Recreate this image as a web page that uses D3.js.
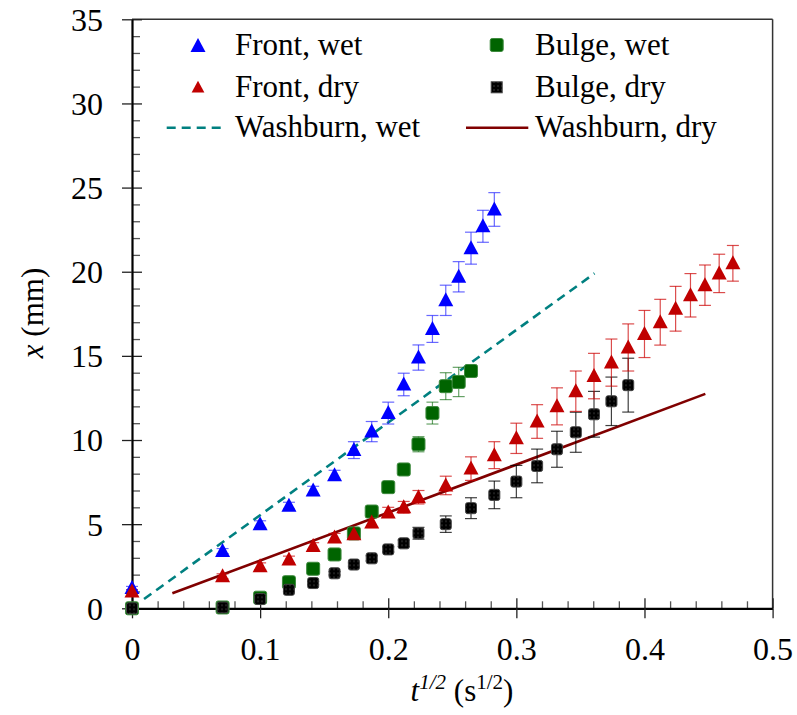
<!DOCTYPE html>
<html>
<head>
<meta charset="utf-8">
<script src="https://cdn.jsdelivr.net/npm/d3@7"></script>
<style>
  html, body { margin: 0; padding: 0; background: #fff; }
  svg text { font-family: "Liberation Serif", "Times New Roman", Tinos, "DejaVu Serif", "Noto Serif", serif !important; }
</style>
</head>
<body>
<svg id="chart" width="797" height="715"></svg>
<script>
// ---------------- data ----------------
const tFrontWet = [0, 0.0707, 0.1, 0.1225, 0.1414, 0.1581, 0.1732, 0.1871, 0.2, 0.2121, 0.2236, 0.2345, 0.2449, 0.2550, 0.2646, 0.2739, 0.2828];
const frontWet    = [1.2, 3.4, 5.0, 6.1, 7.0, 7.9, 9.4, 10.5, 11.6, 13.3, 14.9, 16.6, 18.3, 19.7, 21.4, 22.7, 23.7];
const frontWetErr = [0.1, 0.15, 0.2, 0.2, 0.25, 0.3, 0.5, 0.6, 0.65, 0.67, 0.75, 0.8, 0.9, 0.9, 0.95, 0.95, 1.0];

const tDry = [0, 0.0707, 0.1, 0.1225, 0.1414, 0.1581, 0.1732, 0.1871, 0.2, 0.2121, 0.2236, 0.2449, 0.2646, 0.2828, 0.3, 0.3162, 0.3317, 0.3464, 0.3606, 0.3742, 0.3873, 0.4, 0.4123, 0.4243, 0.4359, 0.4472, 0.4583, 0.4690];
const frontDry    = [1.0, 1.9, 2.5, 2.9, 3.7, 4.2, 4.4, 5.1, 5.7, 6.0, 6.6, 7.3, 8.3, 9.1, 10.1, 11.1, 12.0, 12.9, 13.8, 14.6, 15.5, 16.3, 17.0, 17.8, 18.6, 19.2, 19.9, 20.5];
const frontDryErr = [0.1, 0.15, 0.2, 0.2, 0.2, 0.25, 0.25, 0.3, 0.3, 0.35, 0.4, 0.55, 0.7, 0.8, 0.9, 1.0, 1.1, 1.2, 1.35, 1.4, 1.4, 1.4, 1.36, 1.33, 1.29, 1.2, 1.14, 1.06];

const tBulgeWet = [0, 0.0707, 0.1, 0.1225, 0.1414, 0.1581, 0.1732, 0.1871, 0.2, 0.2121, 0.2236, 0.2345, 0.2449, 0.2550, 0.2646];
const bulgeWet    = [0, 0.05, 0.63, 1.55, 2.35, 3.2, 4.45, 5.75, 7.2, 8.25, 9.75, 11.6, 13.2, 13.45, 14.1];
const bulgeWetErr = [0, 0, 0.1, 0.1, 0.15, 0.15, 0.2, 0.2, 0.25, 0.3, 0.45, 0.65, 0.8, 0.87, 0];

const tBulgeDry = [0, 0.0707, 0.1, 0.1225, 0.1414, 0.1581, 0.1732, 0.1871, 0.2, 0.2121, 0.2236, 0.2449, 0.2646, 0.2828, 0.3, 0.3162, 0.3317, 0.3464, 0.3606, 0.3742, 0.3873];
const bulgeDry    = [0, 0.05, 0.55, 1.1, 1.5, 2.08, 2.6, 2.97, 3.5, 3.86, 4.46, 5.0, 5.95, 6.74, 7.53, 8.46, 9.45, 10.46, 11.53, 12.3, 13.26];
const bulgeDryErr = [0, 0, 0.05, 0.1, 0.1, 0.1, 0.1, 0.15, 0.15, 0.2, 0.35, 0.49, 0.62, 0.82, 0.96, 1.0, 1.07, 1.19, 1.36, 1.44, 1.6];

const washburnWetT = [0.0094, 0.361];
const washburnWetX = [0.55, 19.9];
const washburnDryT = [0.0315, 0.4475];
const washburnDryX = [0.89, 12.74];

const xTicks = [0, 0.1, 0.2, 0.3, 0.4, 0.5];
const xTickLabels = ["0", "0.1", "0.2", "0.3", "0.4", "0.5"];
const yTicks = [0, 5, 10, 15, 20, 25, 30, 35];
const yTickLabels = ["0", "5", "10", "15", "20", "25", "30", "35"];

const legendLabels = ["Front, wet", "Front, dry", "Washburn, wet", "Bulge, wet", "Bulge, dry", "Washburn, dry"];

// ---------------- layout ----------------
const W = 797, H = 715;
const margin = {left: 132, top: 19.3, right: 24.4, bottom: 106.7};
const pw = W - margin.left - margin.right;
const ph = H - margin.top - margin.bottom;

const svg = d3.select("#chart");
const defs = svg.append("defs");
const pat = defs.append("pattern").attr("id", "dots").attr("patternUnits", "userSpaceOnUse")
  .attr("width", 4).attr("height", 4).attr("x", 0).attr("y", 0);
pat.append("rect").attr("width", 4).attr("height", 4).attr("fill", "#000");
pat.append("rect").attr("x", 1.5).attr("y", 1.5).attr("width", 1).attr("height", 1).attr("fill", "#777");

const g = svg.append("g").attr("transform", `translate(${margin.left},${margin.top})`);

const x = d3.scaleLinear().domain([0, 0.5]).range([0, pw]);
const y = d3.scaleLinear().domain([0, 35]).range([ph, 0]);

// frame (top & right)
g.append("line").attr("x1", 0).attr("x2", pw).attr("y1", 0).attr("y2", 0).attr("stroke", "#333").attr("stroke-width", 1.5);
g.append("line").attr("x1", pw).attr("x2", pw).attr("y1", 0).attr("y2", ph).attr("stroke", "#333").attr("stroke-width", 1.5);

// minor ticks
const xMinor = d3.range(0, 0.5001, 0.02).filter(v => Math.abs(v * 10 - Math.round(v * 10)) > 1e-6);
const yMinor = d3.range(0, 35.001, 1).filter(v => v % 5 !== 0);

g.append("g").attr("transform", `translate(0,${ph})`)
  .call(d3.axisBottom(x).tickValues(xMinor).tickSize(-7).tickFormat(""))
  .call(s => s.select(".domain").remove())
  .selectAll("line").attr("stroke", "#555").attr("stroke-width", 1.3);
g.append("g")
  .call(d3.axisLeft(y).tickValues(yMinor).tickSize(-8).tickFormat(""))
  .call(s => s.select(".domain").remove())
  .selectAll("line").attr("stroke", "#555").attr("stroke-width", 1.3);

// major ticks inward
g.append("g").attr("transform", `translate(0,${ph})`)
  .call(d3.axisBottom(x).tickValues(xTicks).tickSize(-10).tickFormat(""))
  .call(s => s.select(".domain").remove())
  .selectAll("line").attr("stroke", "#222").attr("stroke-width", 1.3);
g.append("g")
  .call(d3.axisLeft(y).tickValues(yTicks).tickSize(-10).tickFormat(""))
  .call(s => s.select(".domain").remove())
  .selectAll("line").attr("stroke", "#222").attr("stroke-width", 1.3);

// major axes with labels
const xAxis = g.append("g").attr("transform", `translate(0,${ph})`)
  .call(d3.axisBottom(x).tickValues(xTicks).tickSize(10).tickSizeOuter(0).tickFormat((d, i) => xTickLabels[i]));
xAxis.attr("font-family", null);
xAxis.select(".domain").attr("stroke", "#000").attr("stroke-width", 2.2);
xAxis.selectAll(".tick line").attr("stroke", "#222").attr("stroke-width", 1.3);
xAxis.selectAll(".tick text").attr("y", 52).attr("dy", 0)
  .attr("font-size", 32).attr("fill", "#000");

const yAxis = g.append("g")
  .call(d3.axisLeft(y).tickValues(yTicks).tickSize(10).tickSizeOuter(0).tickFormat((d, i) => yTickLabels[i]));
yAxis.attr("font-family", null);
yAxis.select(".domain").attr("stroke", "#000").attr("stroke-width", 2.2);
yAxis.selectAll(".tick line").attr("stroke", "#222").attr("stroke-width", 1.3);
yAxis.selectAll(".tick text").attr("x", -29).attr("dy", "0.34em")
  .attr("font-size", 32).attr("fill", "#000");

// axis titles
const xt = svg.append("text").attr("x", 462).attr("y", 701).attr("text-anchor", "middle")
  .attr("font-size", 31).attr("fill", "#000");
xt.append("tspan").attr("font-style", "italic").text("t");
xt.append("tspan").attr("font-style", "italic").attr("font-size", 21).attr("dy", -12).text("1/2");
xt.append("tspan").attr("dy", 12).text(" (s");
xt.append("tspan").attr("font-size", 21).attr("dy", -12).text("1/2");
xt.append("tspan").attr("dy", 12).text(")");

const yt = svg.append("text").attr("transform", "translate(43,313) rotate(-90)").attr("text-anchor", "middle")
  .attr("font-size", 31).attr("fill", "#000");
yt.append("tspan").attr("font-style", "italic").text("x");
yt.append("tspan").text(" (mm)");

// ---------------- series ----------------
const zip = (ts, vs, es) => ts.map((t, i) => ({t, v: vs[i], e: es ? es[i] : 0}));
const sFrontWet = zip(tFrontWet, frontWet, frontWetErr);
const sFrontDry = zip(tDry, frontDry, frontDryErr);
const sBulgeWet = zip(tBulgeWet, bulgeWet, bulgeWetErr);
const sBulgeDry = zip(tBulgeDry, bulgeDry, bulgeDryErr);

const line = d3.line().x(d => x(d.t)).y(d => y(d.v));

// Washburn lines
g.append("path").datum(zip(washburnWetT, washburnWetX))
  .attr("d", line).attr("fill", "none").attr("stroke", "#008080").attr("stroke-width", 2.6)
  .attr("stroke-dasharray", "9,6");
g.append("path").datum(zip(washburnDryT, washburnDryX))
  .attr("d", line).attr("fill", "none").attr("stroke", "#800000").attr("stroke-width", 2.6);

function errorBars(data, color) {
  const gg = g.append("g").attr("stroke", color).attr("stroke-width", 1.2).attr("fill", "none");
  const d2 = data.filter(d => d.e > 0);
  gg.selectAll("line.v").data(d2).join("line").attr("class", "v")
    .attr("x1", d => x(d.t)).attr("x2", d => x(d.t))
    .attr("y1", d => y(d.v - d.e)).attr("y2", d => y(d.v + d.e));
  gg.selectAll("line.top").data(d2).join("line").attr("class", "top")
    .attr("x1", d => x(d.t) - 6).attr("x2", d => x(d.t) + 6)
    .attr("y1", d => y(d.v + d.e)).attr("y2", d => y(d.v + d.e));
  gg.selectAll("line.bot").data(d2).join("line").attr("class", "bot")
    .attr("x1", d => x(d.t) - 6).attr("x2", d => x(d.t) + 6)
    .attr("y1", d => y(d.v - d.e)).attr("y2", d => y(d.v - d.e));
}

const triPath = "M0,-8 L7.5,6 L-7.5,6 Z";

function squares(data, fill, stroke, size) {
  g.append("g").selectAll("rect").data(data).join("rect")
    .attr("x", d => x(d.t) - size / 2).attr("y", d => y(d.v) - size / 2)
    .attr("width", size).attr("height", size).attr("rx", 2)
    .attr("fill", fill).attr("stroke", stroke).attr("stroke-width", 1);
}
function triangles(data, color) {
  g.append("g").selectAll("path").data(data).join("path")
    .attr("transform", d => `translate(${x(d.t)},${y(d.v)})`)
    .attr("d", triPath).attr("fill", color);
}

errorBars(sBulgeWet, "rgba(0,100,0,0.6)");
errorBars(sBulgeDry, "rgba(0,0,0,0.75)");
errorBars(sFrontWet, "rgba(40,40,255,0.7)");
errorBars(sFrontDry, "rgba(204,0,0,0.7)");

squares(sBulgeWet, "#006400", "#3d8a3d", 13);
squares(sBulgeDry, "url(#dots)", "#444", 11);
triangles(sFrontWet, "#0000FF");
triangles(sFrontDry, "#C00000");

// ---------------- legend ----------------
const leg = svg.append("g");
const textX = [235, 535];
const baselines = [55, 97, 137];
leg.append("path").attr("transform", "translate(198,46)").attr("d", triPath).attr("fill", "#0000FF");
leg.append("path").attr("transform", "translate(198,87.5) scale(0.85)").attr("d", triPath).attr("fill", "#C00000");
leg.append("line").attr("x1", 166.7).attr("x2", 225).attr("y1", 127.7).attr("y2", 127.7)
  .attr("stroke", "#008080").attr("stroke-width", 2.6).attr("stroke-dasharray", "9,6");
leg.append("rect").attr("x", 496.7 - 6.5).attr("y", 45 - 6.5).attr("width", 13).attr("height", 13).attr("rx", 2)
  .attr("fill", "#006400").attr("stroke", "#3d8a3d");
leg.append("rect").attr("x", 496.7 - 5.5).attr("y", 87.3 - 5.5).attr("width", 11).attr("height", 11)
  .attr("fill", "url(#dots)").attr("stroke", "#444");
leg.append("line").attr("x1", 466).attr("x2", 528.3).attr("y1", 127.7).attr("y2", 127.7)
  .attr("stroke", "#800000").attr("stroke-width", 2.6);

legendLabels.forEach((lab, i) => {
  const col = Math.floor(i / 3), row = i % 3;
  leg.append("text").attr("x", textX[col]).attr("y", baselines[row])
    .attr("font-size", 31).attr("fill", "#000").text(lab);
});
</script>
</body>
</html>
